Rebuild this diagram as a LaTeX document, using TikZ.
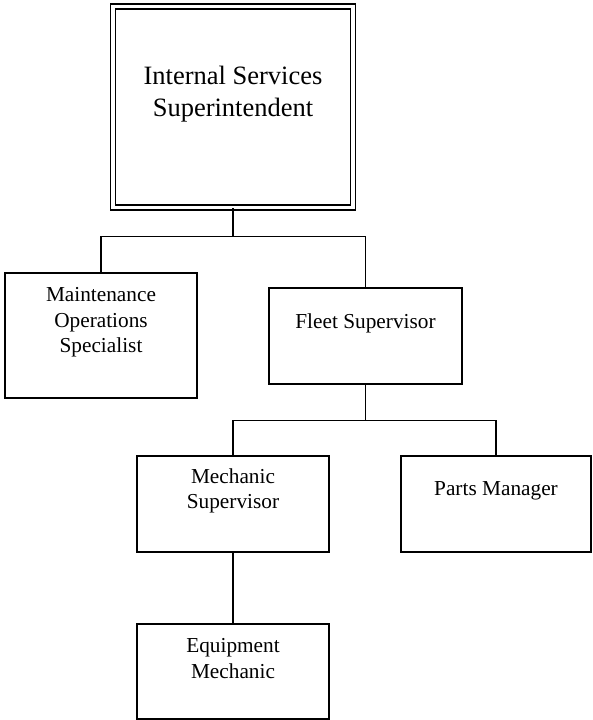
\documentclass[tikz,border=0pt]{standalone}
\usepackage{fontspec}
\setmainfont{Liberation Serif}
\usetikzlibrary{positioning, calc}

\begin{document}
\begin{tikzpicture}[x=1pt, y=-1pt]
        \tikzstyle{post}=[rectangle, draw=black, line width=1.4pt, inner sep=0pt, minimum width=192pt, minimum height=96pt];
        \tikzstyle{title}=[font=\fontsize{21.3}{25.5}\selectfont, align=center, yshift=13pt];
        \tikzstyle{link}=[-, line width=1.4pt, black];

        \useasboundingbox (0, 0) rectangle (592, 720);

        \node[double, double distance=3.5pt, line width=1.2pt] (super) at (233, 107) [post, minimum width=240pt, minimum height=201pt,
            label={[title, font=\fontsize{26.5}{32}\selectfont]center:Internal Services\\Superintendent}] {};

        \node (maint) at (101, 335.5) [post, minimum height=125pt,
            label={[title]center:Maintenance\\Operations\\Specialist}] {};
        \node (fleet) at (365.5, 336) [post, minimum width=193pt,
            label={[title]center:Fleet Supervisor}] {};

        \node (mech) at (233, 504) [post,
            label={[title]center:Mechanic\\Supervisor}] {};
        \node (parts) at (496, 504) [post, minimum width=190pt,
            label={[title]center:Parts Manager}] {};

        \node (equip) at (233, 671.5) [post, minimum height=95pt,
            label={[title]center:Equipment\\Mechanic}] {};

        \coordinate (j1) at ([yshift=-28pt]super.south);
        \coordinate (j2) at ([yshift=-36pt]fleet.south);

        \draw[link] (super.south) -- (j1) -| (maint.north);
        \draw[link] (j1) -| (fleet.north);
        \draw[link] (fleet.south) -- (j2) -| (mech.north);
        \draw[link] (j2) -| (parts.north);
        \draw[link] (mech.south) -- (equip.north);
    \end{tikzpicture}
\end{document}
